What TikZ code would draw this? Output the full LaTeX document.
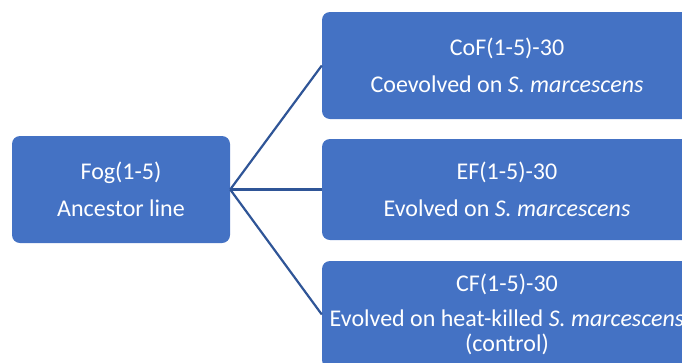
\documentclass[tikz,border=0pt]{standalone}
\usepackage{fontspec}
\setmainfont{Carlito}
\usepackage{xcolor}
\definecolor{LineageBlue}{HTML}{4472C4}
\definecolor{LineageEdge}{HTML}{2F5597}
\tikzset{
  linebox/.style={rectangle,rounded corners=8pt,fill=LineageBlue,text=white,
    align=center,inner sep=0pt,minimum width=370pt,minimum height=105pt,
    font=\fontsize{24}{25}\selectfont},
  ancbox/.style={linebox,minimum width=218pt,minimum height=107pt},
  branch/.style={LineageEdge,line width=2.2pt}
}
\begin{document}
\begin{tikzpicture}[x=1pt,y=-1pt]
  \useasboundingbox (0,0) rectangle (682,362);
  \clip (0,0) rectangle (682,362);

  % ancestor and the three evolved lines
  \node[ancbox] (fog) at (121,189.5) {Fog(1-5)\\[12pt]Ancestor line};
  \node[linebox,minimum height=107pt] (cof) at (507,65.5)
    {CoF(1-5)-30\\[12pt]Coevolved on \textit{S. marcescens}};
  \node[linebox,minimum height=101pt] (ef) at (507,189.5)
    {EF(1-5)-30\\[12pt]Evolved on \textit{S. marcescens}};
  \node[linebox,minimum height=107pt] (cf) at (507,314.5)
    {CF(1-5)-30\\[10pt]Evolved on heat-killed \textit{S. marcescens}\\(control)};

  \draw[branch] (fog.east) -- (cof.west);
  \draw[branch] (fog.east) -- (ef.west);
  \draw[branch] (fog.east) -- (cf.west);
\end{tikzpicture}
\end{document}
